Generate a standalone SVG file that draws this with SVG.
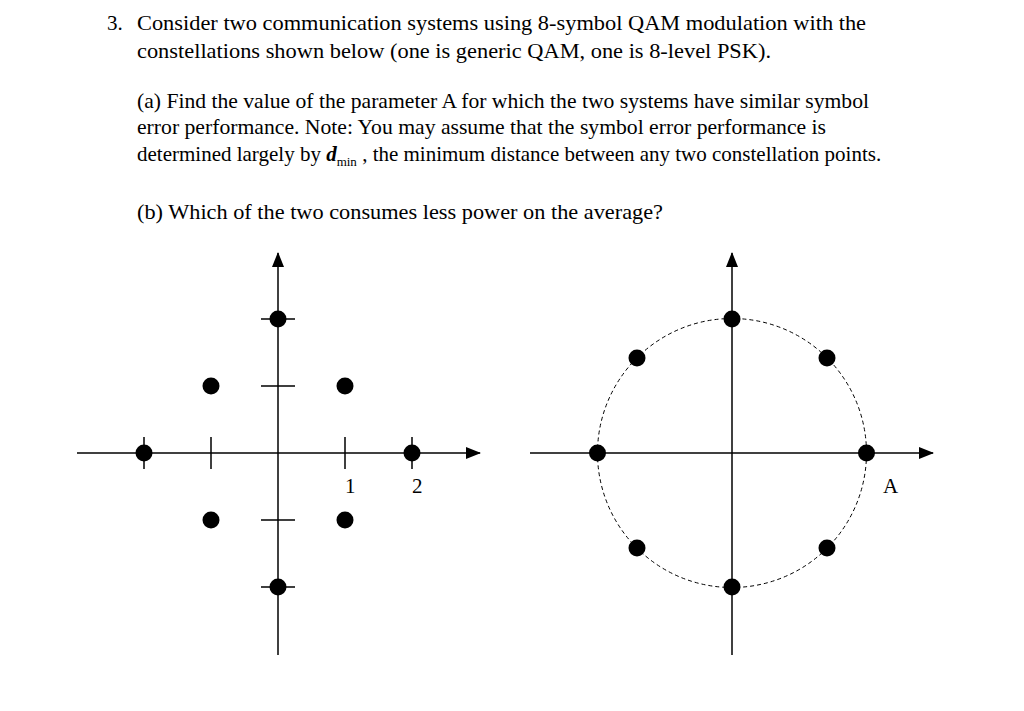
<svg xmlns="http://www.w3.org/2000/svg" width="1024" height="711" viewBox="0 0 1024 711">
<style>
text{font-family:"Liberation Serif","Times New Roman",serif;font-size:21px;fill:#000}
.ax{stroke:#000;stroke-width:1.5;fill:none}
.dot{fill:#000}
</style>
<defs><marker id="ar" markerWidth="16" markerHeight="12" refX="14" refY="6" orient="auto" markerUnits="userSpaceOnUse"><path d="M0,0 L15,6 L0,12 Z" fill="#000"/></marker></defs>
<rect width="1024" height="711" fill="#fff"/>
<g id="text">
<text x="107" y="30">3.</text>
<text x="137" y="30" textLength="729" lengthAdjust="spacingAndGlyphs">Consider two communication systems using 8-symbol QAM modulation with the</text>
<text x="137" y="58" textLength="634" lengthAdjust="spacingAndGlyphs">constellations shown below (one is generic QAM, one is 8-level PSK).</text>
<text x="137" y="108" textLength="732" lengthAdjust="spacingAndGlyphs">(a) Find the value of the parameter A for which the two systems have similar symbol</text>
<text x="137" y="134" textLength="689" lengthAdjust="spacingAndGlyphs">error performance. Note: You may assume that the symbol error performance is</text>
<text x="137" y="161" font-size="22.4">determined largely by <tspan font-style="italic" font-weight="bold">d</tspan><tspan font-size="13" dy="5">min</tspan><tspan dy="-5"> , the minimum distance between any two constellation points.</tspan></text>
<text x="137" y="219" textLength="526" lengthAdjust="spacingAndGlyphs">(b) Which of the two consumes less power on the average?</text>
</g>
<g id="connectors">
<line class="ax" x1="77" y1="453" x2="480" y2="453" marker-end="url(#ar)"/>
<line class="ax" x1="278" y1="655" x2="278" y2="253" marker-end="url(#ar)"/>
<path class="ax" d="M144,437V469M211,437V469M345,437V469M412,437V469M261,319H295M261,386H295M261,520H295M261,587H295"/>
<line class="ax" x1="530" y1="453" x2="933" y2="453" marker-end="url(#ar)"/>
<line class="ax" x1="732" y1="655" x2="732" y2="253" marker-end="url(#ar)"/>
<circle cx="732" cy="453" r="134.5" fill="none" stroke="#000" stroke-width="1" stroke-dasharray="4,3"/>
</g>
<g id="qam">
<circle class="dot" cx="144" cy="453" r="8.5"/><circle class="dot" cx="412" cy="453" r="8.5"/>
<circle class="dot" cx="278" cy="319" r="8.5"/><circle class="dot" cx="278" cy="587" r="8.5"/>
<circle class="dot" cx="211" cy="386" r="8.5"/><circle class="dot" cx="345" cy="386" r="8.5"/>
<circle class="dot" cx="211" cy="520" r="8.5"/><circle class="dot" cx="345" cy="520" r="8.5"/>
<text x="345" y="493">1</text><text x="412" y="493">2</text>
</g>
<g id="psk">
<circle class="dot" cx="597.5" cy="453" r="8.5"/><circle class="dot" cx="866.5" cy="453" r="8.5"/>
<circle class="dot" cx="732" cy="319" r="8.5"/><circle class="dot" cx="732" cy="587" r="8.5"/>
<circle class="dot" cx="637" cy="358" r="8.5"/><circle class="dot" cx="827" cy="358" r="8.5"/>
<circle class="dot" cx="637" cy="548" r="8.5"/><circle class="dot" cx="827" cy="548" r="8.5"/>
<text x="883" y="493">A</text>
</g>
</svg>
